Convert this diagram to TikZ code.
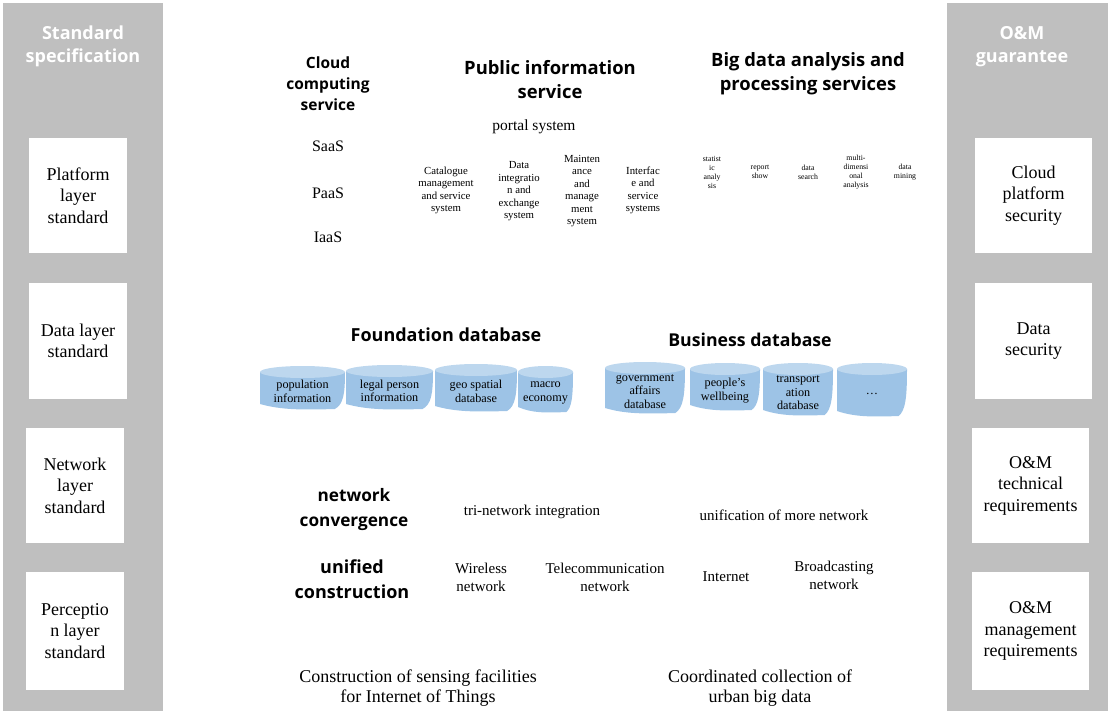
\documentclass[tikz,border=0pt]{standalone}
\usepackage{fontspec}
\setmainfont{Liberation Serif}
\newfontfamily\hdfont{Open Sans}
\definecolor{sidegray}{HTML}{BFBFBF}
\definecolor{canblue}{HTML}{9DC3E6}
\definecolor{cantopblue}{HTML}{BDD7EE}
\tikzset{
  sidecol/.style={fill=sidegray, draw=none},
  sidebox/.style={fill=white, draw=none, align=center, inner sep=0pt, font=\fontsize{18}{21.5}\selectfont},
  sidetitle/.style={text=white, align=center, inner sep=0pt, font=\hdfont\bfseries\fontsize{18}{22.5}\selectfont},
  hdr/.style={align=center, inner sep=0pt, font=\hdfont\bfseries\fontsize{18.4}{24}\selectfont},
  hdrsmall/.style={align=center, inner sep=0pt, font=\hdfont\bfseries\fontsize{15.5}{21}\selectfont},
  body/.style={align=center, inner sep=0pt, font=\fontsize{16}{19}\selectfont},
  bodymid/.style={align=center, inner sep=0pt, font=\fontsize{15}{18}\selectfont},
  bottomtext/.style={align=center, inner sep=0pt, font=\fontsize{18}{20}\selectfont},
  small/.style={align=center, inner sep=0pt, font=\fontsize{10.8}{12.5}\selectfont},
  tiny/.style={align=center, inner sep=0pt, font=\fontsize{7.8}{9}\selectfont},
  cantext/.style={align=center, inner sep=0pt, font=\fontsize{12.2}{13.5}\selectfont},
  canbody/.style={fill=canblue},
  cantop/.style={fill=cantopblue},
}
\newcommand{\dbcan}[6]{%
  \pgfmathsetmacro{\cw}{#3-#2}%
  \pgfmathsetmacro{\ctop}{#4+6}%
  \pgfmathsetmacro{\ch}{#5-\ctop}%
  \pgfmathsetmacro{\crx}{(#3-#2)/2}%
  \pgfmathsetmacro{\cmx}{(#2+#3)/2}%
  \fill[canbody] (#2,\ctop) -- (#2,#5-5) .. controls (#2+0.25*\cw,#5+1) and (#2+0.5*\cw,#5+1) .. (#3-0.12*\cw,#5) .. controls (#3-0.02*\cw,#5-0.12*\ch) and (#3,#5-0.4*\ch) .. (#3,\ctop) -- cycle;
  \fill[cantop] (\cmx,\ctop) ellipse[x radius=\crx pt, y radius=6pt];
  \node[cantext] (#1) at (\cmx,{(#4+#5)/2+4}) {#6};
}
\begin{document}
\begin{tikzpicture}[x=1pt,y=-1pt]
\useasboundingbox (0,0) rectangle (1109,717);
% side columns
\fill[sidecol] (3,3) rectangle (163,711);
\fill[sidecol] (947,3) rectangle (1108,711);
\node[sidetitle] (lt) at (83,46.5) {Standard\\specification};
\node[sidetitle] (rt) at (1022,46.5) {O\&M\\guarantee};
% left boxes
\node[sidebox, minimum width=98pt, minimum height=115pt] (l1) at (78,195.5) {Platform\\layer\\standard};
\node[sidebox, minimum width=98pt, minimum height=116pt] (l2) at (78,341) {Data layer\\standard};
\node[sidebox, minimum width=98pt, minimum height=115pt] (l3) at (75,485.5) {Network\\layer\\standard};
\node[sidebox, minimum width=98pt, minimum height=118pt] (l4) at (75,631) {Perceptio\\n layer\\standard};
% right boxes
\node[sidebox, minimum width=117pt, minimum height=115pt] (r1) at (1033.5,195.5) {Cloud\\platform\\security};
\node[sidebox, minimum width=117pt, minimum height=116pt] (r2) at (1033.5,341) {Data\\security};
\node[sidebox, minimum width=117pt, minimum height=115pt] (r3) at (1030.5,485.5) {O\&M\\technical\\requirements};
\node[sidebox, minimum width=117pt, minimum height=118pt] (r4) at (1030.5,631) {O\&M\\management\\requirements};
% top layer
\node[hdrsmall] (cloud) at (328,83.5) {Cloud\\computing\\service};
\node[hdr] (pub) at (550,79.5) {Public information\\service};
\node[hdr] (big) at (808,74) {Big data analysis and\\processing services};
\node[body, font=\fontsize{15.5}{19}\selectfont] (portal) at (534,126.5) {portal system};
\node[body] (saas) at (328,146.5) {SaaS};
\node[body] (paas) at (328,193.5) {PaaS};
\node[body] (iaas) at (328,237.5) {IaaS};
\node[small] (cat) at (446,190.5) {Catalogue\\management\\and service\\system};
\node[small] (dint) at (519,191.5) {Data\\integratio\\n and\\exchange\\system};
\node[small] (maint) at (582,191) {Mainten\\ance\\and\\manage\\ment\\system};
\node[small] (intf) at (643,190.5) {Interfac\\e and\\service\\systems};
\node[tiny] (stat) at (712,172.5) {statist\\ic\\analy\\sis};
\node[tiny] (rep) at (760,172) {report\\show};
\node[tiny] (dsearch) at (808,172) {data\\search};
\node[tiny] (multi) at (856,172.5) {multi-\\dimensi\\onal\\analysis};
\node[tiny] (dmine) at (905,172) {data\\mining};
% data layer
\node[hdr, font=\hdfont\bfseries\fontsize{18}{24}\selectfont] (found) at (446,335) {Foundation database};
\node[hdr, font=\hdfont\bfseries\fontsize{17.7}{24}\selectfont] (bus) at (750,340) {Business database};
\dbcan{c1}{260}{345}{366}{409}{population\\information}
\dbcan{c2}{346}{433}{365}{409}{legal person\\information}
\dbcan{c3}{435}{517}{364}{411}{geo spatial\\database}
\dbcan{c4}{518}{573}{366}{412}{macro\\economy}
\dbcan{c5}{605}{685}{362}{413}{government\\affairs\\database}
\dbcan{c6}{690}{760}{363}{410}{people's\\wellbeing}
\dbcan{c7}{763}{833}{363}{415}{transport\\ation\\database}
\dbcan{c8}{837}{907}{363}{416}{\dots}
% network layer
\node[hdr, font=\hdfont\bfseries\fontsize{17.2}{25}\selectfont] (conv) at (354,510) {network\\convergence};
\node[hdr, font=\hdfont\bfseries\fontsize{18}{25}\selectfont] (unif) at (352,579) {unified\\construction};
\node[bodymid] (tri) at (532,511.5) {tri-network integration};
\node[bodymid] (more) at (784,515.5) {unification of more network};
\node[bodymid] (wire) at (481,577.5) {Wireless\\network};
\node[bodymid] (tele) at (605,577.5) {Telecommunication\\network};
\node[bodymid] (inet) at (726,576.5) {Internet};
\node[bodymid] (broad) at (834,575.5) {Broadcasting\\network};
% perception layer
\node[bottomtext] (iot) at (418,688) {Construction of sensing facilities\\for Internet of Things};
\node[bottomtext] (coll) at (760,688) {Coordinated collection of\\urban big data};
\end{tikzpicture}
\end{document}
